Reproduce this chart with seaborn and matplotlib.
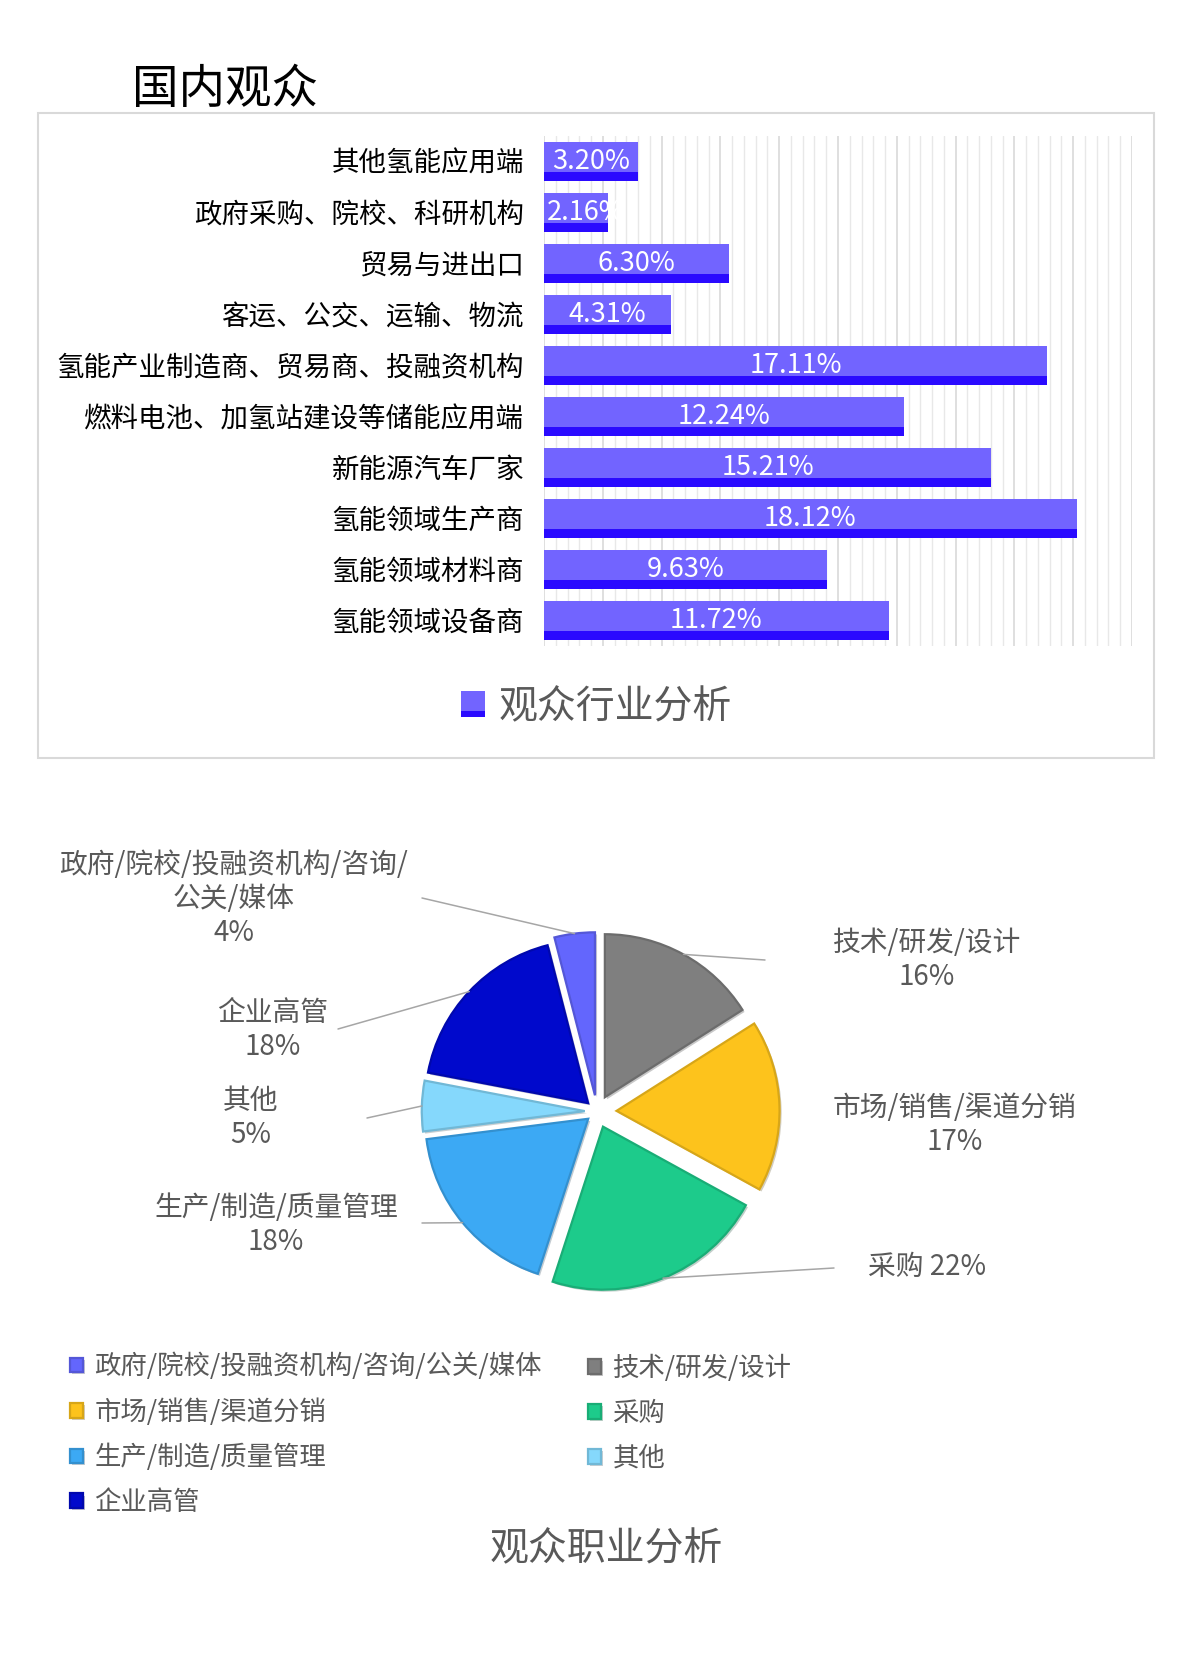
import numpy as np
import pandas as pd
import seaborn as sns
import matplotlib
matplotlib.use("Agg")
import matplotlib.pyplot as plt
import matplotlib.colors as mcolors
import matplotlib.patheffects as pe
from matplotlib.patches import Rectangle
from matplotlib.legend_handler import HandlerBase

# ---------------- data ----------------
industries = ["其他氢能应用端", "政府采购、院校、科研机构", "贸易与进出口", "客运、公交、运输、物流",
              "氢能产业制造商、贸易商、投融资机构", "燃料电池、加氢站建设等储能应用端", "新能源汽车厂家",
              "氢能领域生产商", "氢能领域材料商", "氢能领域设备商"]
industry_share = [3.20, 2.16, 6.30, 4.31, 17.11, 12.24, 15.21, 18.12, 9.63, 11.72]

jobs = ["政府/院校/投融资机构/咨询/公关/媒体", "技术/研发/设计", "市场/销售/渠道分销", "采购",
        "生产/制造/质量管理", "其他", "企业高管"]
job_share = [4, 16, 17, 22, 18, 5, 18]
job_label_text = ["政府/院校/投融资机构/咨询/\n公关/媒体\n{}%", "技术/研发/设计\n{}%", "市场/销售/渠道分销\n{}%",
                  "采购 {}%", "生产/制造/质量管理\n{}%", "其他\n{}%", "企业高管\n{}%"]
job_colors = ["#6366FD", "#7F7F7F", "#FDC31C", "#1DCB8B", "#3CA9F4", "#85D8FC", "#0009CC"]

# ---------------- style / layout ----------------
LIGHT = "#7264FF"
DARK = "#2A0AFF"
GRAYTXT = "#595959"
W, H = 1179, 1667

sns.set_theme(style="white")
plt.rcParams["font.family"] = ["Noto Sans CJK SC", "DejaVu Sans"]

fig = plt.figure(figsize=(W / 100, H / 100), dpi=100)
fig.patch.set_facecolor("white")


def fx(x):
    return x / W


def fy(y):
    return 1 - y / H


# outer frame of the bar section
fig.patches.append(Rectangle((fx(38), fy(758)), (1154 - 38) / W, (758 - 113) / H,
                             transform=fig.transFigure, fill=False, ec="#D9D9D9", lw=1.5))
fig.text(fx(132), fy(90), "国内观众", fontsize=33.5, color="black", ha="left", va="center")

# ---------------- bar chart ----------------
ax = fig.add_axes([544 / W, 1 - 646 / H, 588 / W, 510 / H])
df = pd.DataFrame({"行业": industries, "占比": industry_share})
sns.barplot(data=df, x="占比", y="行业", orient="h", color=LIGHT, saturation=1,
            width=0.77, ax=ax, zorder=3, linewidth=0, edgecolor="none")
bar_patches = list(ax.patches)
pos = np.arange(len(industries))
ax.barh(pos + 0.385 - 0.093, df["占比"], height=0.186, color=DARK, zorder=4,
        linewidth=0, edgecolor="none")

ax.set_xlim(0, 20)
ax.set_ylim(len(industries) - 0.5, -0.5)
ax.set_xticks(np.arange(0, 20.01, 2))
ax.set_xticks(np.arange(0, 20.01, 0.4), minor=True)
ax.grid(axis="x", which="major", color="#D9D9D9", lw=1.2)
ax.grid(axis="x", which="minor", color="#E8E8E8", lw=1.0)
ax.grid(axis="y", visible=False)
ax.set_axisbelow(True)
ax.tick_params(axis="x", which="both", length=0, labelbottom=False)
ax.tick_params(axis="y", length=0, pad=14.4, labelsize=19.8, labelcolor="black")
for s in ax.spines.values():
    s.set_visible(False)
ax.set_xlabel("")
ax.set_ylabel("")

renderer = fig.canvas.get_renderer()
for i, v in enumerate(df["占比"]):
    t = ax.text(v / 2, i, f"{v:.2f}%", ha="center", va="center", color="white",
                fontsize=19.5, zorder=6)
    t.set_clip_path(bar_patches[i])
    tw = t.get_window_extent(renderer).width
    bw = bar_patches[i].get_window_extent(renderer).width
    if tw > bw - 4:
        t.set_ha("left")
        t.set_x(0)
        t.set_transform(ax.transData + matplotlib.transforms.ScaledTranslation(3 / 100, 0, fig.dpi_scale_trans))


class SplitSquare(HandlerBase):
    def create_artists(self, legend, orig_handle, xdescent, ydescent, width, height, fontsize, trans):
        x0, y0 = -xdescent, -ydescent
        top = Rectangle((x0, y0 + 0.25 * height), width, 0.75 * height, fc=LIGHT, ec="none", transform=trans)
        bot = Rectangle((x0, y0), width, 0.25 * height, fc=DARK, ec="none", transform=trans)
        return [top, bot]


fig.legend(handles=[bar_patches[0]], labels=["观众行业分析"],
           handler_map={bar_patches[0]: SplitSquare()},
           loc="center", bbox_to_anchor=(fx(596), fy(707)), frameon=False, fontsize=28,
           handlelength=0.64, handleheight=0.64, handletextpad=0.33, labelcolor=GRAYTXT,
           borderpad=0, borderaxespad=0)

# ---------------- pie chart ----------------
axp = fig.add_axes([0, 0, 1, 1])
axp.set_facecolor("none")
R = 163
explode_frac = [0.10, 0.10, 0.12, 0.10, 0.07, 0.075, 0.075]
res = axp.pie(job_share, colors=job_colors, startangle=90 + 3.6 * job_share[0], counterclock=False,
              explode=[e * R for e in explode_frac], radius=R, center=(597, H - 1111.5), frame=True,
              wedgeprops=dict(linewidth=1.6))
wedges = res[0]
for w, c in zip(wedges, job_colors):
    rgb = np.array(mcolors.to_rgb(c)) * 0.85
    w.set_edgecolor(tuple(rgb))
    w.set_path_effects([pe.SimplePatchShadow(offset=(1.5, -1.5), alpha=0.25), pe.Normal()])
axp.set_xlim(0, W)
axp.set_ylim(0, H)
axp.set_aspect("auto")
axp.axis("off")

# label placement (layout): text centre and leader-line end, in image pixels
label_xy = [(234, 899), (927, 960), (955, 1125), (927, 1267), (276, 1225), (251, 1118), (273, 1030)]
line_end = [(422, 898), (765, 960), None, (834, 1268), (422, 1223), (367, 1118), (338, 1029)]
for i, w in enumerate(wedges):
    th = np.deg2rad((w.theta1 + w.theta2) / 2)
    cx, cy = w.center
    sx, sy = cx + w.r * np.cos(th), cy + w.r * np.sin(th)
    if line_end[i] is not None:
        ex, ey = line_end[i]
        axp.plot([sx, ex], [sy, H - ey], color="#A6A6A6", lw=1.1, zorder=1)
    lx, ly = label_xy[i]
    axp.text(lx, H - ly, job_label_text[i].format(job_share[i]), ha="center", va="center",
             multialignment="center", fontsize=20, color=GRAYTXT, linespacing=1.18)

# legends (two columns, row-wise order)
left_idx = [0, 2, 4, 6]
right_idx = [1, 3, 5]
common = dict(frameon=False, fontsize=19, handlelength=0.48, handleheight=0.48, handletextpad=0.45,
              labelcolor=GRAYTXT, borderpad=0, borderaxespad=0, labelspacing=0.68)
fig.legend(handles=[wedges[i] for i in left_idx], labels=[jobs[i] for i in left_idx],
           loc="center left", bbox_to_anchor=(fx(70), fy(1434.5)), **common)
fig.legend(handles=[wedges[i] for i in right_idx], labels=[jobs[i] for i in right_idx],
           loc="center left", bbox_to_anchor=(fx(588), fy(1413)), **common)

fig.text(fx(606), fy(1549), "观众职业分析", fontsize=28, color=GRAYTXT, ha="center", va="center")

fig.savefig("out.png", dpi=100, facecolor="white")
